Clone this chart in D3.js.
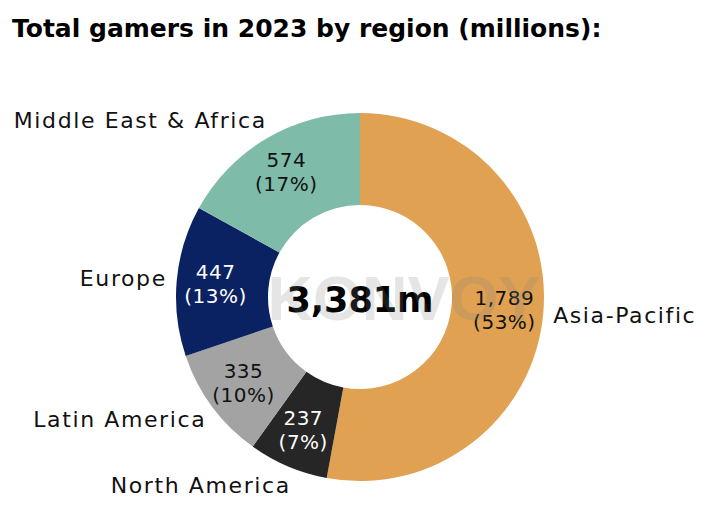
<!DOCTYPE html>
<html>
<head>
<meta charset="utf-8">
<script src="https://cdn.jsdelivr.net/npm/d3@7"></script>
<style>
  body { margin: 0; background: #fff; }
</style>
</head>
<body>
<script>
//size of the svg
var w = 719;
var h = 510;

//data
var regions = ["Asia-Pacific", "North America", "Latin America", "Europe", "Middle East & Africa"];
var gamers = [1789, 237, 335, 447, 574];
var shares = [53, 7, 10, 13, 17];
var colors = ["#e0a152", "#262626", "#a3a3a3", "#0b2262", "#7fbba9"];
var valueColors = ["#111111", "#ffffff", "#111111", "#ffffff", "#111111"];
var totalLabel = "3,381m";
var title = "Total gamers in 2023 by region (millions):";

var cx = 360, cy = 297;
var outerR = 184, innerR = 92;

var svg = d3.select("body")
            .append("svg")
            .attr("width", w)
            .attr("height", h);

//title
svg.append("text")
    .attr("x", 12)
    .attr("y", 37)
    .style("font-family", "'DejaVu Sans', sans-serif")
    .style("font-weight", "bold")
    .style("font-size", "25px")
    .style("fill", "#000")
    .text(title);

var data = regions.map(function(r, i) {
    return { region: r, value: gamers[i], share: shares[i], color: colors[i], textColor: valueColors[i] };
});

//pie clockwise from 12 o'clock, keep order
var pie = d3.pie()
            .sort(null)
            .value(function(d) { return d.value; });

var arc = d3.arc().innerRadius(innerR).outerRadius(outerR);
var midArc = d3.arc().innerRadius(145).outerRadius(145);
var outArc = d3.arc().innerRadius(205).outerRadius(205);

var g = svg.append("g").attr("transform", "translate(" + cx + "," + cy + ")");

var slices = pie(data);

g.selectAll("path.slice")
    .data(slices)
    .enter()
    .append("path")
    .attr("class", "slice")
    .attr("d", arc)
    .style("fill", function(d) { return d.data.color; });

//values inside the ring
var vals = g.selectAll("text.val")
    .data(slices)
    .enter()
    .append("text")
    .attr("class", "val")
    .attr("text-anchor", "middle")
    .style("font-family", "'DejaVu Sans', sans-serif")
    .style("font-size", "20px")
    .style("letter-spacing", "0.5px")
    .style("fill", function(d) { return d.data.textColor; });

vals.append("tspan")
    .attr("x", function(d) { return midArc.centroid(d)[0]; })
    .attr("y", function(d) { return midArc.centroid(d)[1] - 5; })
    .text(function(d) { return d3.format(",")(d.data.value); });

vals.append("tspan")
    .attr("x", function(d) { return midArc.centroid(d)[0]; })
    .attr("y", function(d) { return midArc.centroid(d)[1] + 19; })
    .text(function(d) { return "(" + d.data.share + "%)"; });

//region names outside
g.selectAll("text.region")
    .data(slices)
    .enter()
    .append("text")
    .attr("class", "region")
    .attr("x", function(d) {
        var p = outArc.centroid(d)[0];
        return p > 0 ? p - 11 : p + 11;
    })
    .attr("y", function(d) { return outArc.centroid(d)[1]; })
    .attr("dy", "0.35em")
    .attr("text-anchor", function(d) { return outArc.centroid(d)[0] > 0 ? "start" : "end"; })
    .style("font-family", "'DejaVu Sans', sans-serif")
    .style("font-size", "22px")
    .style("letter-spacing", "1.6px")
    .style("fill", "#111")
    .text(function(d) { return d.data.region; });

//watermark
svg.append("text")
    .attr("x", 404)
    .attr("y", 320)
    .attr("text-anchor", "middle")
    .style("font-family", "'Liberation Sans', Arial, sans-serif")
    .style("font-weight", "bold")
    .style("font-size", "63px")
    .style("fill", "#808080")
    .style("opacity", 0.2)
    .text("KONVOY");

//total in the hole
g.append("text")
    .attr("x", 0)
    .attr("y", 15)
    .attr("text-anchor", "middle")
    .style("font-family", "'DejaVu Sans', sans-serif")
    .style("font-weight", "bold")
    .style("font-size", "35px")
    .style("fill", "#000")
    .text(totalLabel);
</script>
</body>
</html>
